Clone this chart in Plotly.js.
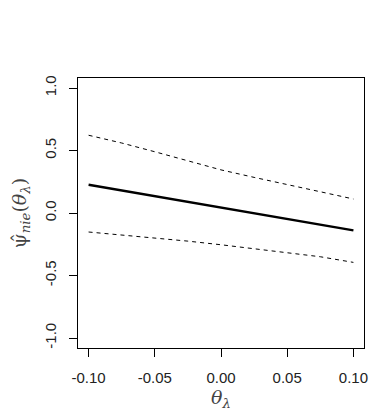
<!DOCTYPE html>
<html>
<head>
<meta charset="utf-8">
<script src="https://cdn.plot.ly/plotly-3.0.1.min.js"></script>
<style>
  html, body { margin: 0; padding: 0; background: #fff; }
  #plot { width: 383px; height: 415px; }
</style>
</head>
<body>
<div id="plot"></div>
<script>
// theta values along the x axis
const theta = [-0.1, -0.075, -0.05, -0.025, 0, 0.025, 0.05, 0.075, 0.1]
// estimate and its pointwise bands
const est = [0.226, 0.180, 0.135, 0.090, 0.045, 0.000, -0.047, -0.093, -0.139]
const upper = [0.622, 0.560, 0.490, 0.420, 0.345, 0.285, 0.225, 0.170, 0.112]
const lower = [-0.152, -0.175, -0.198, -0.225, -0.254, -0.285, -0.315, -0.350, -0.395]

const xTicks = [-0.1, -0.05, 0, 0.05, 0.1]
const xTickText = ['-0.10', '-0.05', '0.00', '0.05', '0.10']
const yTicks = [-1, -0.5, 0, 0.5, 1]
const yTickText = ['-1.0', '-0.5', '0.0', '0.5', '1.0']

const dashed = { color: 'black', width: 1, dash: '4px,4px' }

let data = [
    { x: theta, y: upper, mode: 'lines', line: dashed },
    { x: theta, y: est, mode: 'lines', line: { color: 'black', width: 2.3 } },
    { x: theta, y: lower, mode: 'lines', line: dashed },
]

const tickFont = { family: 'Liberation Sans, Arial, sans-serif', size: 15, color: '#222' }
const titleFont = { family: 'DejaVu Serif, Liberation Serif, serif', size: 19, color: '#444' }

const layout = {
    width: 383,
    height: 415,
    showlegend: false,
    paper_bgcolor: 'white',
    plot_bgcolor: 'white',
    margin: { l: 78, r: 19, t: 78, b: 67 },
    xaxis: {
        range: [-0.108, 0.108],
        tickvals: xTicks,
        ticktext: xTickText,
        ticks: 'outside',
        ticklen: 8,
        tickcolor: 'black',
        ticklabelstandoff: 8,
        showgrid: false,
        zeroline: false,
        showline: true,
        mirror: true,
        linecolor: 'black',
        linewidth: 1,
        tickfont: tickFont,
        title: { text: '<i>θ</i><sub><i>λ</i></sub>', font: titleFont, standoff: 4 },
    },
    yaxis: {
        range: [-1.08, 1.08],
        tickvals: yTicks,
        ticktext: yTickText,
        tickangle: -90,
        ticks: 'outside',
        ticklen: 8,
        tickcolor: 'black',
        ticklabelstandoff: 7,
        showgrid: false,
        zeroline: false,
        showline: true,
        mirror: true,
        linecolor: 'black',
        linewidth: 1,
        tickfont: tickFont,
        title: { text: 'ψ̂<sub><i>nie</i></sub>(<i>θ</i><sub><i>λ</i></sub>)', font: titleFont, standoff: 10 },
    },
}

Plotly.newPlot('plot', data, layout, { displayModeBar: false, staticPlot: true })
</script>
</body>
</html>
